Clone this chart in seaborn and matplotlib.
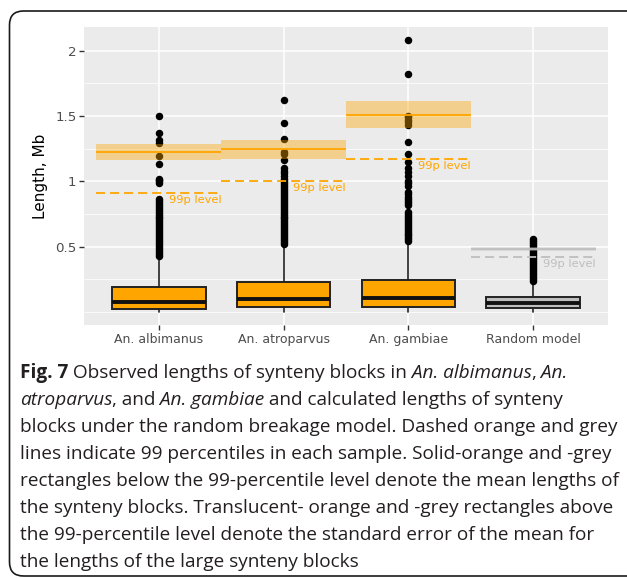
import numpy as np
import pandas as pd
import matplotlib
matplotlib.use("Agg")
import matplotlib.pyplot as plt
import seaborn as sns
from matplotlib.patches import FancyBboxPatch

# ---------------- data ----------------
categories = ["An. albimanus", "An. atroparvus", "An. gambiae", "Random model"]
box_q1 = [0.025, 0.036, 0.041, 0.028]
box_median = [0.079, 0.097, 0.107, 0.067]
box_q3 = [0.189, 0.227, 0.245, 0.117]
whisker_low = [0.003, 0.003, 0.003, 0.002]
whisker_high = [0.41, 0.50, 0.53, 0.23]

outliers_albimanus = [0.43, 0.445, 0.46, 0.475, 0.49, 0.505, 0.52, 0.535, 0.55, 0.565,
                      0.58, 0.595, 0.61, 0.625, 0.64, 0.655, 0.67, 0.685, 0.70, 0.715,
                      0.73, 0.745, 0.76, 0.775, 0.79, 0.805, 0.82, 0.835, 0.85, 0.865,
                      0.99, 1.00, 1.01, 1.02, 1.13, 1.19, 1.29, 1.315, 1.367, 1.50]
outliers_atroparvus = [0.52, 0.535, 0.55, 0.565, 0.58, 0.595, 0.61, 0.625, 0.64, 0.655,
                       0.67, 0.685, 0.70, 0.715, 0.73, 0.745, 0.76, 0.775, 0.79, 0.805,
                       0.82, 0.835, 0.85, 0.865, 0.88, 0.895, 0.91, 0.925, 0.94, 0.955,
                       0.97, 0.985, 1.00, 1.02, 1.04, 1.06, 1.08, 1.10, 1.163, 1.21,
                       1.226, 1.32, 1.444, 1.622]
outliers_gambiae = [0.54, 0.555, 0.57, 0.585, 0.60, 0.615, 0.63, 0.645, 0.66, 0.675,
                    0.69, 0.705, 0.72, 0.735, 0.75, 0.765, 0.82, 0.835, 0.85, 0.865,
                    0.88, 0.90, 0.92, 0.965, 0.985, 1.00, 1.04, 1.07, 1.10, 1.145,
                    1.206, 1.303, 1.43, 1.45, 1.47, 1.49, 1.50, 1.818, 2.078]
outliers_random = [0.24, 0.255, 0.27, 0.285, 0.30, 0.315, 0.33, 0.345, 0.36, 0.375,
                   0.39, 0.405, 0.42, 0.435, 0.45, 0.465, 0.48, 0.495, 0.51, 0.525,
                   0.54, 0.56]

large_mean = [1.226, 1.247, 1.507, 0.480]
large_se_low = [1.163, 1.173, 1.405, 0.464]
large_se_high = [1.285, 1.316, 1.614, 0.495]
p99_level = [0.913, 1.005, 1.173, 0.423]
p99_label = "99p level"

y_ticks = [0.5, 1, 1.5, 2]
y_tick_labels = ["0.5", "1", "1.5", "2"]
y_minor = [0, 0.25, 0.75, 1.25, 1.75]
y_label = "Length, Mb"

caption_lines = [
    [("Fig. 7", "bold"), (" Observed lengths of synteny blocks in", "normal"),
     (" An. albimanus", "italic"), (",", "normal"), (" An.", "italic")],
    [("atroparvus", "italic"), (", and", "normal"), (" An. gambiae", "italic"),
     (" and calculated lengths of synteny", "normal")],
    [("blocks under the random breakage model. Dashed orange and grey", "normal")],
    [("lines indicate 99 percentiles in each sample. Solid-orange and -grey", "normal")],
    [("rectangles below the 99-percentile level denote the mean lengths of", "normal")],
    [("the synteny blocks. Translucent- orange and -grey rectangles above", "normal")],
    [("the 99-percentile level denote the standard error of the mean for", "normal")],
    [("the lengths of the large synteny blocks", "normal")],
]

# ---------------- style ----------------
ORANGE = "#FFA500"
GREY = "#BEBEBE"
group_colors = [ORANGE, ORANGE, ORANGE, GREY]

sns.set_theme(style="darkgrid")
plt.rcParams["font.family"] = ["DejaVu Sans"]
plt.rcParams["lines.scale_dashes"] = False

W, H = 627, 578
fig = plt.figure(figsize=(W / 100, H / 100), dpi=100)
fig.patch.set_facecolor("white")
ax = fig.add_axes([84 / W, 1 - 325 / H, 524 / W, 298 / H])
ax.set_facecolor("#EBEBEB")

# outliers with seaborn
outlier_values = [outliers_albimanus, outliers_atroparvus, outliers_gambiae, outliers_random]
df = pd.DataFrame({
    "group": np.repeat(categories, [len(v) for v in outlier_values]),
    "length": np.concatenate(outlier_values),
})
sns.stripplot(data=df, x="group", y="length", order=categories, jitter=False,
              color="black", size=5.4, linewidth=0, ax=ax, zorder=3)

# boxes from summary statistics
stats = [dict(med=m, q1=a, q3=b, whislo=lo, whishi=hi, fliers=[])
         for m, a, b, lo, hi in zip(box_median, box_q1, box_q3, whisker_low, whisker_high)]
bp = ax.bxp(stats, positions=range(len(categories)), widths=0.75, patch_artist=True,
            showcaps=False, showfliers=False, manage_ticks=False,
            boxprops=dict(edgecolor="#222222", linewidth=1.4),
            medianprops=dict(color="#111111", linewidth=2.8),
            whiskerprops=dict(color="#222222", linewidth=1.2), zorder=2)
for patch, c in zip(bp["boxes"], group_colors):
    patch.set_facecolor(c)

# mean / SE / 99p annotations
for i, c in enumerate(group_colors):
    xs = [i - 0.5, i + 0.5]
    ax.fill_between(xs, large_se_low[i], large_se_high[i], color=c, alpha=0.4, lw=0, zorder=4)
    ax.plot(xs, [large_mean[i]] * 2, color=c, lw=1.3, zorder=5, solid_capstyle="butt")
    ax.plot(xs, [p99_level[i]] * 2, color=c, lw=1.3, ls=(0, (6.5, 3.6)), zorder=5)
    ax.annotate(p99_label, xy=(i + 0.5, p99_level[i]), xytext=(0, -1.5),
                textcoords="offset points", ha="right", va="top", color=c,
                fontsize=8.2, zorder=6)

ax.set_xlim(-0.6, len(categories) - 0.4)
ax.set_ylim(-0.1, 2.18)
ax.set_yticks(y_ticks)
ax.set_yticklabels(y_tick_labels)
ax.set_yticks(y_minor, minor=True)
ax.set_xticks(range(len(categories)))
ax.set_xticklabels(categories)
ax.set_xlabel("")
ax.set_ylabel(y_label, fontsize=11, color="black", labelpad=5)
ax.grid(which="major", color="white", lw=1.1)
ax.grid(which="minor", axis="y", color="white", lw=0.55)
ax.set_axisbelow(True)
ax.tick_params(which="major", left=True, bottom=True, length=3.5, width=1.0,
               color="#333333", labelcolor="#4D4D4D", pad=2)
ax.tick_params(axis="x", labelsize=9)
ax.tick_params(axis="y", labelsize=9.6)
ax.tick_params(which="minor", left=False, bottom=False, length=0)
for s in ax.spines.values():
    s.set_visible(False)

# border
border = FancyBboxPatch((0.095, 0.02), 6.6, 5.65,
                        boxstyle="round,pad=0,rounding_size=0.14",
                        transform=fig.dpi_scale_trans, facecolor="none",
                        edgecolor="#1a1a1a", linewidth=1.2, clip_on=False)
fig.add_artist(border)

# caption
cap_font = "Open Sans"
cap_color = "#231F20"
fig.canvas.draw()
renderer = fig.canvas.get_renderer()
probe = fig.text(0, 0, caption_lines[4][0][0], fontsize=12, family=cap_font)
pw = probe.get_window_extent(renderer).width
probe.remove()
cap_size = 12 * 599 / pw

baselines = [378, 405, 432, 459, 486, 513, 540, 567]
for line, base in zip(caption_lines, baselines):
    x = 20
    prev_style = None
    for txt, style in line:
        if prev_style == "italic" and txt[:1] in ",.":
            x -= 0.8
        t = fig.text(x / W, 1 - base / H, txt, fontsize=cap_size, family=cap_font,
                     fontweight="bold" if style == "bold" else "normal",
                     fontstyle="italic" if style == "italic" else "normal",
                     color=cap_color, ha="left", va="baseline")
        x = t.get_window_extent(renderer).x1
        prev_style = style

fig.savefig("out.png", dpi=100)
